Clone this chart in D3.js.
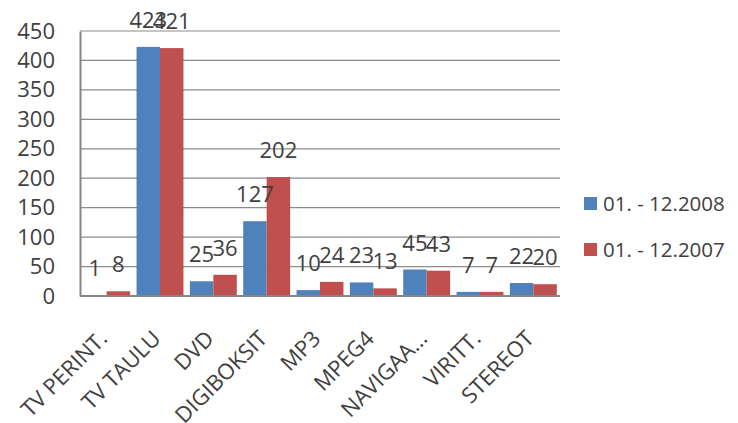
<!DOCTYPE html>
<html>
<head>
<meta charset="utf-8">
<script src="https://cdn.jsdelivr.net/npm/d3@7"></script>
<style>
  body { margin: 0; background: #fff; }
  text { font-family: "Open Sans", sans-serif; fill: #404040; }
</style>
</head>
<body>
<div class="chart"></div>
<script>
var categories = ["TV PERINT.", "TV TAULU", "DVD", "DIGIBOKSIT", "MP3", "MPEG4", "NAVIGAA...", "VIRITT.", "STEREOT"];
var seriesNames = ["01. - 12.2008", "01. - 12.2007"];
var values2008 = [1, 423, 25, 127, 10, 23, 45, 7, 22];
var values2007 = [8, 421, 36, 202, 24, 13, 43, 7, 20];
var yTicks = [0, 50, 100, 150, 200, 250, 300, 350, 400, 450];
var colors = ["#4F81BD", "#C0504D"];

var width = 738, height = 423;
var plot = { left: 80, right: 560, top: 31, bottom: 296 };

var svg = d3.select(".chart")
    .append("svg")
    .attr("width", width)
    .attr("height", height);

var x = d3.scaleBand()
    .domain(categories)
    .range([plot.left, plot.right])
    .paddingInner(0.12)
    .paddingOuter(0.06);

var xSub = d3.scaleBand()
    .domain([0, 1])
    .range([0, x.bandwidth()]);

var y = d3.scaleLinear()
    .domain([0, 450])
    .range([plot.bottom, plot.top]);

// gridlines
svg.append("g")
    .selectAll("line")
    .data(yTicks.slice(1))
    .enter()
    .append("line")
    .attr("x1", plot.left)
    .attr("x2", plot.right)
    .attr("y1", function (d) { return y(d); })
    .attr("y2", function (d) { return y(d); })
    .attr("stroke", "#8c8c8c")
    .attr("stroke-width", 1.2);

// y axis labels
var yAxis = d3.axisLeft(y).tickValues(yTicks).tickSize(0).tickPadding(25);
var gy = svg.append("g")
    .attr("transform", "translate(" + plot.left + ",0)")
    .call(yAxis);
gy.select(".domain").attr("stroke", "#868686").attr("stroke-width", 2);
gy.selectAll("text")
    .style("font-size", "22px")
    .style("font-family", "'Open Sans', sans-serif")
    .attr("fill", "#404040");

var rows = categories.map(function (c, i) {
    return { cat: c, vals: [values2008[i], values2007[i]] };
});

var groups = svg.append("g")
    .selectAll("g")
    .data(rows)
    .enter()
    .append("g")
    .attr("transform", function (d) { return "translate(" + x(d.cat) + ",0)"; });

groups.selectAll("rect")
    .data(function (d) { return d.vals; })
    .enter()
    .append("rect")
    .attr("x", function (d, i) { return xSub(i); })
    .attr("width", xSub.bandwidth())
    .attr("y", function (d) { return y(d); })
    .attr("height", function (d) { return y(0) - y(d); })
    .attr("fill", function (d, i) { return colors[i]; });

groups.selectAll("text.val")
    .data(function (d) { return d.vals; })
    .enter()
    .append("text")
    .attr("class", "val")
    .attr("x", function (d, i) { return xSub(i) + xSub.bandwidth() / 2; })
    .attr("y", function (d) { return y(d) - 19; })
    .attr("text-anchor", "middle")
    .style("font-size", "22px")
    .text(function (d) { return d; });

// x axis baseline
svg.append("line")
    .attr("x1", plot.left)
    .attr("x2", plot.right)
    .attr("y1", y(0))
    .attr("y2", y(0))
    .attr("stroke", "#868686")
    .attr("stroke-width", 2);

// category labels, rotated like the original
svg.append("g")
    .selectAll("text")
    .data(categories)
    .enter()
    .append("text")
    .attr("transform", function (d) {
        var cx = x(d) + x.bandwidth() / 2 + 2;
        return "translate(" + cx + "," + 340 + ") rotate(-45)";
    })
    .attr("text-anchor", "end")
    .style("font-size", "22px")
    .text(function (d) { return d; });

// legend
var legend = svg.append("g")
    .selectAll("g")
    .data(seriesNames)
    .enter()
    .append("g")
    .attr("transform", function (d, i) { return "translate(584," + (197 + i * 46) + ")"; });

legend.append("rect")
    .attr("width", 13)
    .attr("height", 13)
    .attr("fill", function (d, i) { return colors[i]; });

legend.append("text")
    .attr("x", 19)
    .attr("y", 14)
    .style("font-size", "20.5px")
    .text(function (d) { return d; });
</script>
</body>
</html>
